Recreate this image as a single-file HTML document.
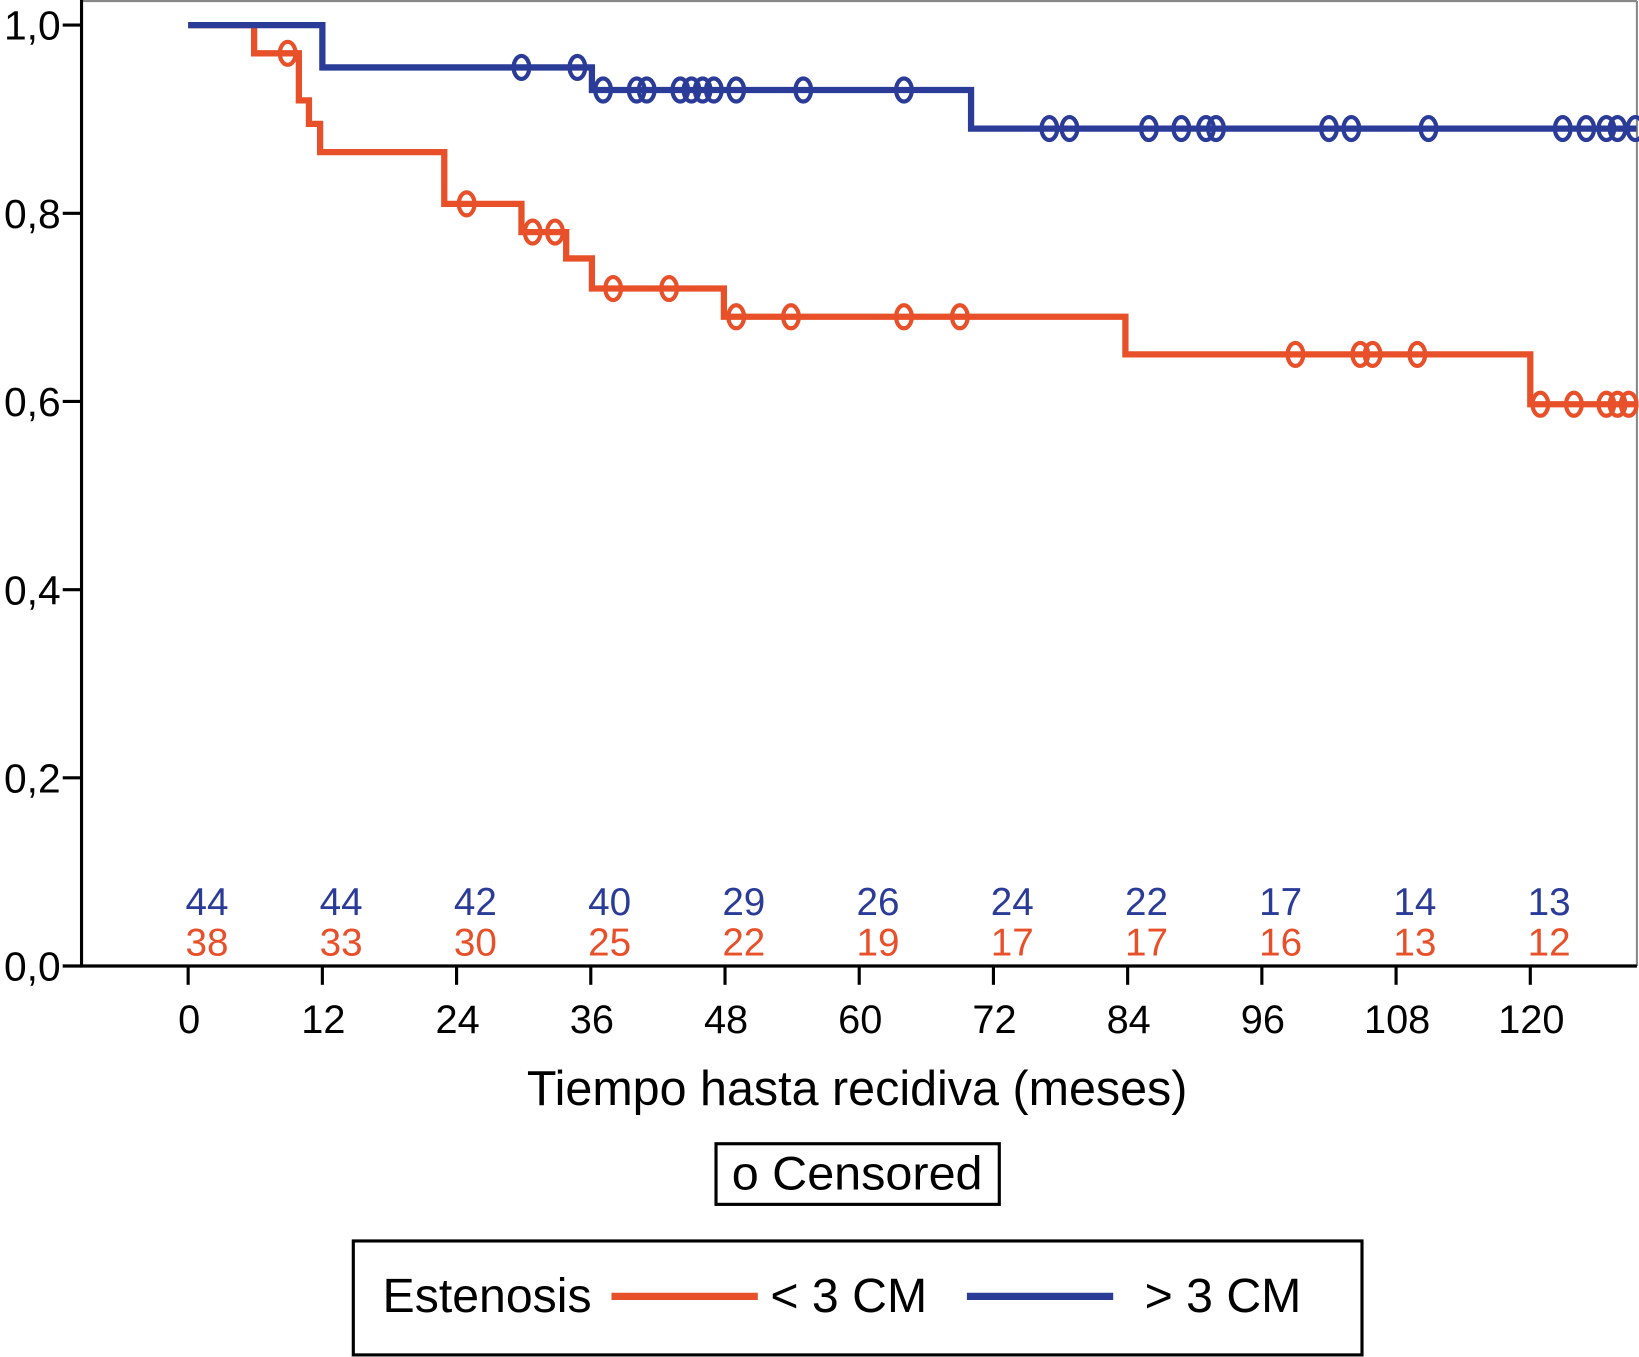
<!DOCTYPE html>
<html><head><meta charset="utf-8"><style>
html,body{margin:0;padding:0;background:#fff}
svg{display:block}
text{font-family:"Liberation Sans",Arial,sans-serif}
</style></head><body>
<svg id="chart" width="1639" height="1357" viewBox="0 0 1568 1298" preserveAspectRatio="none" xmlns="http://www.w3.org/2000/svg">
<g id="frame">
<line x1="78" y1="1" x2="1566" y2="1" stroke="#888" stroke-width="2"/>
<line x1="1566" y1="1" x2="1566" y2="924" stroke="#888" stroke-width="2"/>
<line x1="78" y1="0" x2="78" y2="925" stroke="#000" stroke-width="3"/>
<line x1="77" y1="924" x2="1566" y2="924" stroke="#000" stroke-width="3"/>
</g>
<g id="axes"></g>
<g id="series"></g>
<g id="risk"></g>
<text x="820" y="1057" font-size="47" text-anchor="middle" textLength="632" lengthAdjust="spacingAndGlyphs">Tiempo hasta recidiva (meses)</text>
<g>
<rect x="685" y="1094" width="271" height="58" fill="none" stroke="#000" stroke-width="3"/>
<text x="820" y="1138" font-size="45" text-anchor="middle" textLength="240" lengthAdjust="spacingAndGlyphs">o Censored</text>
</g>
<g>
<rect x="338" y="1187" width="965" height="109" fill="none" stroke="#000" stroke-width="3"/>
<text x="366" y="1255" font-size="46" textLength="200" lengthAdjust="spacingAndGlyphs">Estenosis</text>
<g>
<line x1="585" y1="1240" x2="725" y2="1240" stroke="#e8502a" stroke-width="7"/>
<text x="737" y="1255" font-size="46" textLength="150" lengthAdjust="spacingAndGlyphs">&lt; 3 CM</text></g>
<g>
<line x1="925" y1="1240" x2="1065" y2="1240" stroke="#2b3b98" stroke-width="7"/>
<text x="1095" y="1255" font-size="46" textLength="150" lengthAdjust="spacingAndGlyphs">&gt; 3 CM</text></g>
</g>
</svg>
<script>
const xTicks=[0,12,24,36,48,60,72,84,96,108,120];
const yTicks=[0,0.2,0.4,0.6,0.8,1.0];
const yTickLabels=["0,0","0,2","0,4","0,6","0,8","1,0"];
const orangeTimes=[0,5.9,9.9,10.8,11.8,22.9,29.8,33.8,36.1,47.9,83.8,120,129.5];
const orangeSurv=[1.0,0.97,0.92,0.895,0.865,0.81,0.78,0.752,0.72,0.69,0.65,0.597,0.597];
const orangeCensor=[8.9,24.9,30.8,32.8,38,43,49,53.9,64,69,99,104.8,105.9,109.9,120.9,123.9,126.8,127.8,128.8];
const blueTimes=[0,12,36.1,70,129.5];
const blueSurv=[1.0,0.955,0.931,0.89,0.89];
const blueCensor=[29.8,34.8,37.1,40.1,41,44,45,46,47,49,55,64,77,78.8,85.9,88.8,91,91.9,102,104,110.9,122.9,125,126.8,127.8,129.4];
const riskBlue=[44,44,42,40,29,26,24,22,17,14,13];
const riskOrange=[38,33,30,25,22,19,17,17,16,13,12];
const NS="http://www.w3.org/2000/svg";
const X=t=>180+t*10.7, Y=v=>924-v*900;
function mk(tag,attrs,parent,txt){const e=document.createElementNS(NS,tag);for(const k in attrs)e.setAttribute(k,attrs[k]);if(txt!==undefined)e.textContent=txt;parent.appendChild(e);return e;}
const axes=document.getElementById('axes');
xTicks.forEach(t=>{
 const l=mk('line',{x1:X(t),y1:924,x2:X(t),y2:942,stroke:'#000','stroke-width':3},axes);
 
 
 const tx=mk('text',{x:X(t)+1,y:988,'font-size':38,'text-anchor':'middle'},axes,String(t));
 
 
});
yTicks.forEach((v,i)=>{
 const l=mk('line',{x1:60,y1:Y(v),x2:78,y2:Y(v),stroke:'#000','stroke-width':3},axes);
 
 
 const tx=mk('text',{x:58,y:Y(v)+14,'font-size':39,'text-anchor':'end'},axes,yTickLabels[i]);
 
 
});
const series=document.getElementById('series');
function stepSurv(times,surv,t){let v=surv[0];for(let i=0;i<times.length;i++){if(times[i]<=t)v=surv[i];}return v;}
function draw(times,surv,cens,color,name){
 const g=mk('g',{},series);
 
 
 let d='M'+X(times[0])+' '+Y(surv[0]);
 for(let i=1;i<times.length;i++){d+=' H'+X(times[i])+' V'+Y(surv[i]);}
 const p=mk('path',{d:d,fill:'none',stroke:color,'stroke-width':6},g);
 
 
 cens.forEach(t=>{
  const e=mk('ellipse',{cx:X(t),cy:Y(stepSurv(times,surv,t)),rx:7.5,ry:11,fill:'none',stroke:color,'stroke-width':4},g);
  
  
 });
}
draw(orangeTimes,orangeSurv,orangeCensor,'#e8502a','series-lt3cm');
draw(blueTimes,blueSurv,blueCensor,'#2b3b98','series-gt3cm');
const risk=document.getElementById('risk');
xTicks.forEach((t,i)=>{
 const a=mk('text',{x:X(t)+18,y:875,'font-size':37,'text-anchor':'middle',fill:'#2b3b98'},risk,String(riskBlue[i]));
 
 
 const b=mk('text',{x:X(t)+18,y:914,'font-size':37,'text-anchor':'middle',fill:'#e8502a'},risk,String(riskOrange[i]));
 
 
});
</script>
</body></html>
